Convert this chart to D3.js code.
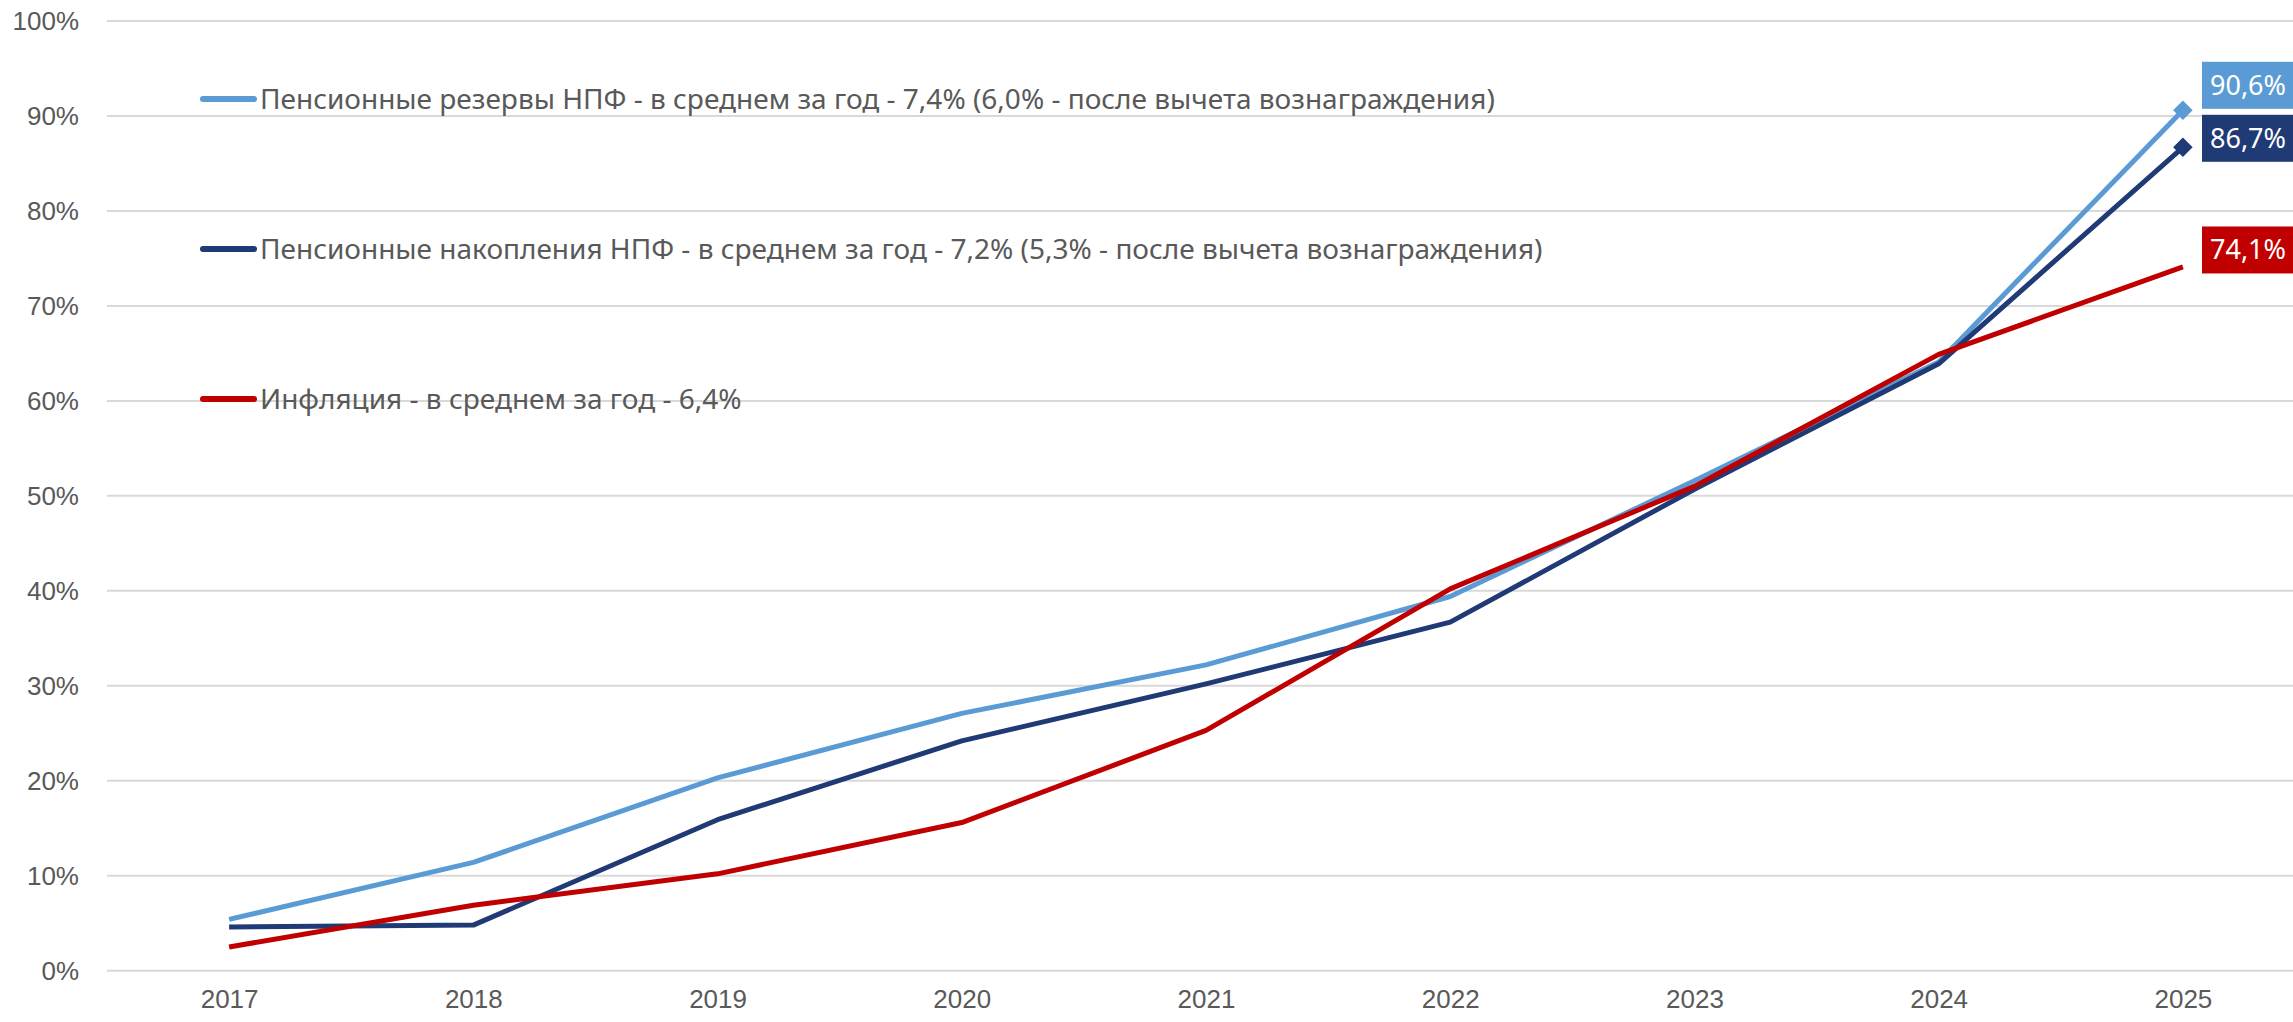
<!DOCTYPE html>
<html lang="ru">
<head>
<meta charset="utf-8">
<title>Доходность НПФ и инфляция</title>
<script src="https://cdn.jsdelivr.net/npm/d3@7"></script>
<style>
  body { margin: 0; background: #fff; font-family: "Noto Sans", sans-serif; }
  .grid line { stroke: #d9d9d9; stroke-width: 2; }
  .axis text { fill: #595959; font-size: 26px; }
  .legend text { fill: #595959; font-size: 28px; }
  .tag text { fill: #fff; font-size: 27px; }
</style>
</head>
<body>
<script>
// накопленная доходность, % к 2016 году
var years = [2017, 2018, 2019, 2020, 2021, 2022, 2023, 2024, 2025];
var reserves  = [5.4, 11.4, 20.3, 27.1, 32.2, 39.4, 51.6, 64.1, 90.6];
var savings   = [4.6, 4.8, 15.9, 24.2, 30.2, 36.7, 50.7, 63.9, 86.7];
var inflation = [2.5, 6.9, 10.2, 15.6, 25.3, 40.2, 51.0, 64.9, 74.1];
var names = [
  "Пенсионные резервы НПФ - в среднем за год - 7,4% (6,0% - после вычета вознаграждения)",
  "Пенсионные накопления НПФ - в среднем за год - 7,2% (5,3% - после вычета вознаграждения)",
  "Инфляция - в среднем за год - 6,4%"
];
var yTicks = [0, 10, 20, 30, 40, 50, 60, 70, 80, 90, 100];

var colors = ["#5b9bd5", "#1f3a75", "#c00000"];
var series = [reserves, savings, inflation];

var width = 2293, height = 1022;
var svg = d3.select("body").append("svg")
    .attr("width", width)
    .attr("height", height);

var x = d3.scalePoint()
    .domain(years)
    .range([107, 2305])
    .padding(0.5);

var y = d3.scaleLinear()
    .domain([0, 100])
    .range([970.7, 21]);

// gridlines
svg.append("g").attr("class", "grid")
  .selectAll("line")
  .data(yTicks)
  .enter().append("line")
    .attr("x1", 107).attr("x2", width)
    .attr("y1", function(d) { return y(d); })
    .attr("y2", function(d) { return y(d); });

// y axis labels
var yAxis = svg.append("g").attr("class", "axis")
    .attr("transform", "translate(79,0)")
    .call(d3.axisLeft(y).tickValues(yTicks).tickSize(0).tickPadding(0)
      .tickFormat(function(d) { return d + "%"; }));
yAxis.select(".domain").remove();
yAxis.selectAll("text").attr("font-family", null).attr("font-size", null);

// x axis labels
var xAxis = svg.append("g").attr("class", "axis")
    .attr("transform", "translate(0,990)")
    .call(d3.axisBottom(x).tickSize(0).tickPadding(0));
xAxis.select(".domain").remove();
xAxis.selectAll("text").attr("font-family", null).attr("font-size", null);

// lines
var line = d3.line()
    .x(function(d, i) { return x(years[i]); })
    .y(function(d) { return y(d); });

svg.selectAll(".series")
  .data(series)
  .enter().append("path")
    .attr("class", "series")
    .attr("fill", "none")
    .attr("stroke", function(d, i) { return colors[i]; })
    .attr("stroke-width", 5)
    .attr("stroke-linejoin", "round")
    .attr("d", line);

// diamond markers on the last point (only NPF series)
var last = years.length - 1;
svg.selectAll(".marker")
  .data(series.slice(0, 2))
  .enter().append("path")
    .attr("class", "marker")
    .attr("fill", function(d, i) { return colors[i]; })
    .attr("d", d3.symbol().type(d3.symbolSquare).size(190))
    .attr("transform", function(d) {
      return "translate(" + x(years[last]) + "," + y(d[last]) + ") rotate(45)";
    });

// value tags: start above the point, then spread apart if they overlap
var tags = series.map(function(d, i) {
  return { v: d[last], c: colors[i], cy: y(d[last]) - 17 };
});
var gap = 53;
var sorted = tags.slice().sort(function(a, b) { return a.cy - b.cy; });
for (var k = 0; k < 5; k++) {
  for (var j = 1; j < sorted.length; j++) {
    var a = sorted[j - 1], b = sorted[j];
    var over = gap - (b.cy - a.cy);
    if (over > 0) { a.cy -= over / 2; b.cy += over / 2; }
  }
}

var tag = svg.selectAll(".tag")
  .data(tags)
  .enter().append("g")
    .attr("class", "tag")
    .attr("transform", function(d) { return "translate(2202," + d.cy + ")"; });
tag.append("rect")
    .attr("x", 0).attr("y", -23.5)
    .attr("width", 95).attr("height", 47)
    .attr("fill", function(d) { return d.c; });
tag.append("text")
    .attr("x", 8)
    .attr("dy", "0.35em")
    .text(function(d) { return d3.format(".1f")(d.v).replace(".", ",") + "%"; });

// legend
var legend = svg.append("g").attr("class", "legend")
  .selectAll("g")
  .data(names)
  .enter().append("g")
    .attr("transform", function(d, i) { return "translate(0," + (99 + i * 150) + ")"; });
legend.append("line")
    .attr("x1", 203).attr("x2", 254)
    .attr("stroke", function(d, i) { return colors[i]; })
    .attr("stroke-width", 6)
    .attr("stroke-linecap", "round");
legend.append("text")
    .attr("x", 260)
    .attr("dy", "0.35em")
    .text(function(d) { return d; });
</script>
</body>
</html>
